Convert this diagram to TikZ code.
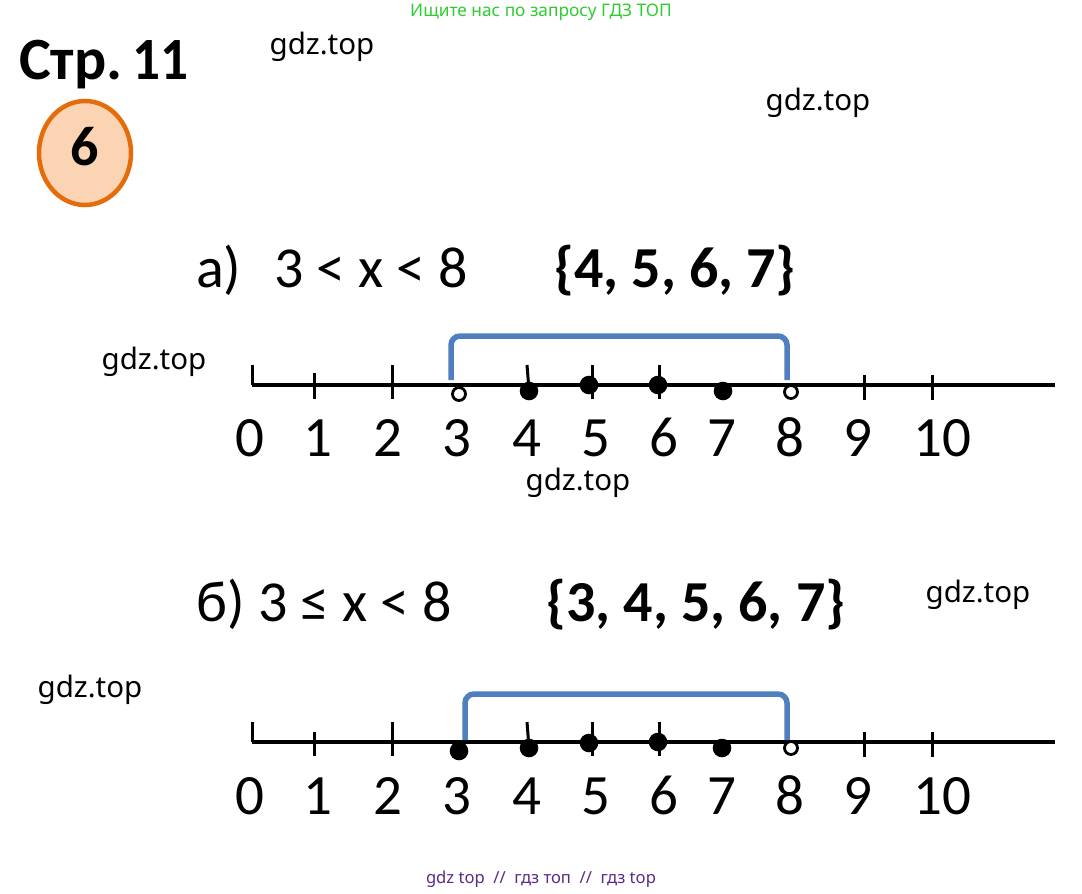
\documentclass[tikz,border=0pt]{standalone}
\usepackage{fontspec}
\usetikzlibrary{shapes.geometric}
\setmainfont{Carlito}
\newfontfamily\wmfont{Noto Sans}
\definecolor{bracketblue}{HTML}{4F7FBE}
\definecolor{circorange}{HTML}{E46C0A}
\definecolor{circfill}{HTML}{FBD4B4}
\definecolor{topgreen}{HTML}{2ECC2E}
\definecolor{botpurple}{HTML}{5A2A8A}
\tikzset{
  bigtext/.style={font=\fontsize{58}{60}\selectfont, inner sep=0pt, anchor=base west},
  numlabel/.style={font=\fontsize{57}{60}\selectfont, inner sep=0pt, anchor=base},
  watermark/.style={font=\wmfont\fontsize{29.5}{32}\selectfont, inner sep=0pt},
  axisline/.style={line width=3.2pt, black},
  tickline/.style={line width=3pt, black},
  fulldot/.style={fill=black},
  opendot/.style={draw=black, fill=white, line width=2.8pt},
  bracketline/.style={draw=bracketblue, line width=5.5pt, rounded corners=9pt},
}
\begin{document}
\begin{tikzpicture}[x=1pt,y=-1pt]
\useasboundingbox (0,0) rectangle (1082,894);
\fill[white] (0,0) rectangle (1082,894);

% header texts
\node[font=\wmfont\fontsize{17.3}{19}\selectfont, text=topgreen, inner sep=0pt] (toptxt) at (541,12) {Ищите нас по запросу ГДЗ ТОП};
\node[font=\fontsize{60}{62}\selectfont\bfseries, inner sep=0pt, anchor=base west] (page) at (19,79) {Стр.\hspace{10pt}\scalebox{0.92}[1]{11}};
\node[ellipse, draw=circorange, fill=circfill, line width=4.5pt, minimum width=92pt, minimum height=104pt, inner sep=0pt] (task) at (85,153) {};
\node[font=\fontsize{56}{60}\selectfont\bfseries, inner sep=0pt] (tasknum) at (85,147) {6};

% watermarks
\node[watermark] (w1) at (322,47) {gdz.top};
\node[watermark] (w2) at (818,103) {gdz.top};
\node[watermark] (w3) at (154,362) {gdz.top};
\node[watermark] (w4) at (578,483) {gdz.top};
\node[watermark] (w5) at (978,595) {gdz.top};
\node[watermark] (w6) at (90,690) {gdz.top};
\node[font=\wmfont\fontsize{16.6}{18}\selectfont, text=botpurple, inner sep=0pt] (bottxt) at (541,879) {gdz top\ \ //\ \ гдз топ\ \ //\ \ гдз top};

% part a
\node[bigtext] (ta) at (196,287) {а)};
\node[bigtext] (ia) at (274,287) {3 < x < 8};
\node[bigtext, font=\fontsize{58}{60}\selectfont\bfseries] (sa) at (554,287) {\{4, 5, 6, 7\}};

% number line a
\coordinate (a0) at (252,385);
\coordinate (aend) at (1055,385);
\draw[axisline] (a0) -- (aend);
\draw[tickline] (252,365) -- (a0);
\draw[tickline] (314,373) -- (314,399);
\draw[tickline] (392,365) -- (392,399);
\draw[tickline] (527,365) -- (529,390);
\draw[tickline] (592,365) -- (592,399);
\draw[tickline] (659,365) -- (659,399);
\draw[tickline] (864,375) -- (864,400);
\draw[tickline] (932,375) -- (932,400);
\draw[bracketline] (451,380) -- (451,336) -- (787,336) -- (787,380);
\fill[fulldot] (529,391) circle (9.3pt);
\fill[fulldot] (589,385) circle (9.3pt);
\fill[fulldot] (658,385) circle (9.3pt);
\fill[fulldot] (723,391) circle (9.3pt);
\draw[opendot] (459,394) circle (6.5pt);
\draw[opendot] (791,392) circle (6.5pt);
\foreach \n/\x in {0/250,1/318,2/388,3/457,4/527,5/596,6/664,7/722,8/790,9/858,10/942}
  \node[numlabel] (la\n) at (\x,456) {\n};

% part b
\node[bigtext] (tb) at (196,621) {б)};
\node[bigtext] (ib) at (258,621) {3 ≤ x < 8};
\node[bigtext, font=\fontsize{58}{60}\selectfont\bfseries] (sb) at (546,621) {\{3, 4, 5, 6, 7\}};

% number line b
\coordinate (b0) at (252,742);
\coordinate (bend) at (1055,742);
\draw[axisline] (b0) -- (bend);
\draw[tickline] (252,722) -- (b0);
\draw[tickline] (314,732) -- (314,756);
\draw[tickline] (392,722) -- (392,756);
\draw[tickline] (527,722) -- (529,748);
\draw[tickline] (592,722) -- (592,756);
\draw[tickline] (659,722) -- (659,756);
\draw[tickline] (864,732) -- (864,757);
\draw[tickline] (932,732) -- (932,757);
\draw[bracketline] (465,740) -- (465,694) -- (787,694) -- (787,740);
\fill[fulldot] (459,751) circle (9.3pt);
\fill[fulldot] (529,748) circle (9.3pt);
\fill[fulldot] (589,743) circle (9.3pt);
\fill[fulldot] (658,742) circle (9.3pt);
\fill[fulldot] (722,748) circle (9.3pt);
\draw[opendot] (791,748) circle (6.5pt);
\foreach \n/\x in {0/250,1/318,2/388,3/457,4/527,5/596,6/664,7/722,8/790,9/858,10/942}
  \node[numlabel] (lb\n) at (\x,814) {\n};
\end{tikzpicture}
\end{document}
